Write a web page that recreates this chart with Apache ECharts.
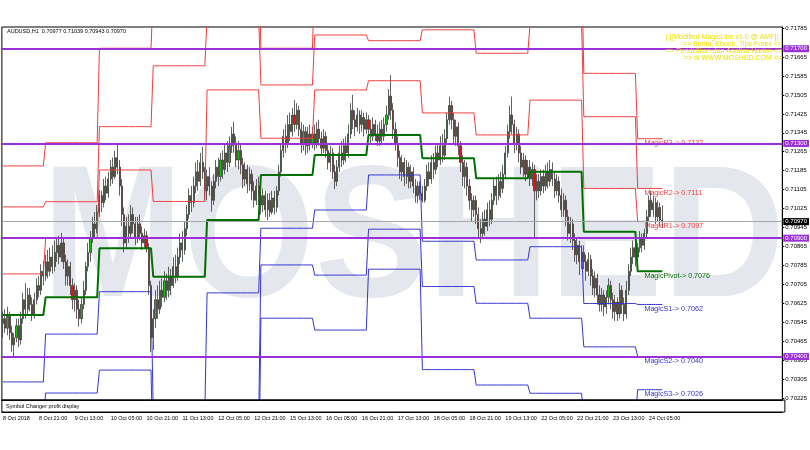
<!DOCTYPE html>
<html><head><meta charset="utf-8">
<script src="https://cdn.jsdelivr.net/npm/echarts@6/dist/echarts.min.js"></script>
<style>html,body{margin:0;padding:0;background:#fff}#c{width:810px;height:450px}</style>
</head><body><div id="c"></div>
<script>
// ---------- data ----------
const symbolTitle = 'AUDUSD,H1  0.70977 0.71039 0.70943 0.70970';
const dayNames = ['8 Oct','9 Oct','10 Oct','11 Oct','12 Oct','15 Oct','16 Oct','17 Oct','18 Oct','19 Oct','22 Oct','23 Oct','24 Oct'];
const dayFirstHour = [5,0,0,0,0,0,0,0,0,0,0,0,0];
const dayBarCount = [19,24,24,24,24,24,24,24,24,24,24,24,12];
const xTickLabels = ['8 Oct 2018','8 Oct 21:00','9 Oct 13:00','10 Oct 05:00','10 Oct 21:00','11 Oct 13:00','12 Oct 05:00','12 Oct 21:00','15 Oct 13:00','16 Oct 05:00','16 Oct 21:00','17 Oct 13:00','18 Oct 05:00','18 Oct 21:00','19 Oct 13:00','22 Oct 05:00','22 Oct 21:00','23 Oct 13:00','24 Oct 05:00'];
const yTickValues = [0.70225,0.70305,0.70385,0.70465,0.70545,0.70625,0.70705,0.70785,0.70865,0.70945,0.71025,0.71105,0.71185,0.71265,0.71345,0.71425,0.71505,0.71585,0.71665,0.71785];
// [open, close, low, high]
const candles = [
[0.70540,0.70560,0.70480,0.70590],[0.70560,0.70520,0.70500,0.70600],[0.70520,0.70570,0.70490,0.70610],[0.70570,0.70500,0.70470,0.70590],
[0.70500,0.70450,0.70420,0.70530],[0.70450,0.70480,0.70401,0.70500],[0.70480,0.70530,0.70460,0.70560],[0.70530,0.70470,0.70440,0.70560],
[0.70470,0.70560,0.70450,0.70590],[0.70560,0.70640,0.70540,0.70670],[0.70640,0.70600,0.70560,0.70710],[0.70600,0.70660,0.70580,0.70690],
[0.70660,0.70620,0.70590,0.70690],[0.70620,0.70580,0.70550,0.70650],[0.70580,0.70640,0.70560,0.70670],[0.70640,0.70700,0.70620,0.70730],
[0.70700,0.70680,0.70650,0.70740],[0.70680,0.70760,0.70660,0.70790],[0.70760,0.70740,0.70700,0.70805],
[0.70740,0.70800,0.70720,0.70830],[0.70800,0.70760,0.70730,0.70850],[0.70760,0.70820,0.70740,0.70860],[0.70820,0.70780,0.70750,0.70870],
[0.70780,0.70840,0.70760,0.70890],[0.70840,0.70870,0.70800,0.70900],[0.70870,0.70820,0.70790,0.70910],[0.70820,0.70880,0.70800,0.70922],
[0.70880,0.70800,0.70770,0.70900],[0.70800,0.70740,0.70700,0.70830],[0.70740,0.70780,0.70700,0.70810],[0.70780,0.70700,0.70660,0.70800],
[0.70700,0.70640,0.70600,0.70730],[0.70640,0.70680,0.70590,0.70710],[0.70680,0.70600,0.70560,0.70700],[0.70600,0.70560,0.70526,0.70640],
[0.70560,0.70620,0.70540,0.70650],[0.70620,0.70680,0.70600,0.70720],[0.70680,0.70780,0.70660,0.70800],[0.70780,0.70840,0.70760,0.70880],
[0.70840,0.70900,0.70800,0.70930],[0.70900,0.70960,0.70880,0.70990],[0.70960,0.70940,0.70900,0.71010],[0.70940,0.71010,0.70920,0.71040],
[0.71010,0.71080,0.70990,0.71103],[0.71080,0.71050,0.71010,0.71100],[0.71050,0.71120,0.71030,0.71150],[0.71120,0.71090,0.71060,0.71160],
[0.71090,0.71150,0.71070,0.71180],[0.71150,0.71200,0.71120,0.71230],[0.71200,0.71160,0.71130,0.71240],[0.71160,0.71240,0.71150,0.71270],
[0.71240,0.71200,0.71170,0.71300],[0.71200,0.71120,0.71080,0.71230],[0.71120,0.71000,0.70950,0.71150],[0.71000,0.70880,0.70840,0.71030],
[0.70880,0.70950,0.70860,0.70990],[0.70950,0.70920,0.70880,0.71000],[0.70920,0.71000,0.70900,0.71040],[0.71000,0.70960,0.70920,0.71030],
[0.70960,0.70900,0.70870,0.70990],[0.70900,0.70960,0.70880,0.70990],[0.70960,0.70920,0.70890,0.71000],[0.70920,0.70880,0.70850,0.70950],
[0.70880,0.70910,0.70860,0.70940],[0.70910,0.70860,0.70840,0.70930],[0.70860,0.70700,0.70660,0.70880],[0.70700,0.70480,0.70419,0.70720],
[0.70480,0.70560,0.70428,0.70600],[0.70560,0.70640,0.70520,0.70680],[0.70640,0.70600,0.70560,0.70700],[0.70600,0.70680,0.70580,0.70720],
[0.70680,0.70650,0.70610,0.70730],[0.70650,0.70720,0.70630,0.70760],[0.70720,0.70680,0.70640,0.70750],[0.70680,0.70740,0.70650,0.70780],
[0.70740,0.70700,0.70660,0.70770],[0.70700,0.70780,0.70690,0.70820],[0.70780,0.70740,0.70710,0.70830],[0.70740,0.70820,0.70720,0.70860],
[0.70820,0.70880,0.70790,0.70920],[0.70880,0.70850,0.70800,0.70930],[0.70850,0.70940,0.70830,0.70970],[0.70940,0.71000,0.70910,0.71040],
[0.71000,0.71080,0.70980,0.71110],[0.71080,0.71050,0.71010,0.71120],[0.71050,0.71120,0.71030,0.71160],[0.71120,0.71180,0.71090,0.71220],
[0.71180,0.71140,0.71100,0.71230],[0.71140,0.71220,0.71120,0.71260],[0.71220,0.71180,0.71150,0.71285],[0.71180,0.71100,0.71060,0.71200],
[0.71100,0.71160,0.71060,0.71190],[0.71160,0.71120,0.71080,0.71200],[0.71120,0.71060,0.71012,0.71140],[0.71060,0.71140,0.71040,0.71170],
[0.71140,0.71200,0.71110,0.71230],[0.71200,0.71160,0.71120,0.71240],[0.71160,0.71230,0.71140,0.71260],[0.71230,0.71190,0.71150,0.71270],
[0.71190,0.71260,0.71170,0.71300],[0.71260,0.71220,0.71180,0.71310],[0.71220,0.71290,0.71200,0.71330],[0.71290,0.71340,0.71260,0.71370],
[0.71340,0.71300,0.71260,0.71392],[0.71300,0.71230,0.71200,0.71330],[0.71230,0.71270,0.71190,0.71310],[0.71270,0.71210,0.71170,0.71300],
[0.71210,0.71150,0.71110,0.71240],[0.71150,0.71190,0.71120,0.71220],[0.71190,0.71130,0.71090,0.71210],[0.71130,0.71170,0.71100,0.71200],
[0.71170,0.71100,0.71060,0.71190],[0.71100,0.71060,0.71030,0.71140],[0.71060,0.71120,0.71040,0.71150],[0.71120,0.71080,0.71040,0.71160],
[0.71080,0.71040,0.71000,0.71110],[0.71040,0.71080,0.71010,0.71110],[0.71080,0.71020,0.70990,0.71100],[0.71020,0.71060,0.70976,0.71090],
[0.71060,0.71010,0.70990,0.71090],[0.71010,0.71070,0.71000,0.71100],[0.71070,0.71030,0.71000,0.71100],[0.71030,0.71100,0.71010,0.71120],
[0.71100,0.71180,0.71080,0.71210],[0.71180,0.71270,0.71160,0.71300],[0.71270,0.71330,0.71240,0.71360],[0.71330,0.71300,0.71260,0.71380],
[0.71300,0.71380,0.71280,0.71420],[0.71380,0.71350,0.71310,0.71430],[0.71350,0.71420,0.71330,0.71450],[0.71420,0.71380,0.71350,0.71483],
[0.71380,0.71440,0.71360,0.71470],[0.71440,0.71360,0.71330,0.71460],[0.71360,0.71300,0.71260,0.71390],[0.71300,0.71350,0.71270,0.71380],
[0.71350,0.71290,0.71250,0.71370],[0.71290,0.71340,0.71260,0.71370],[0.71340,0.71300,0.71270,0.71380],[0.71300,0.71340,0.71280,0.71370],
[0.71340,0.71300,0.71270,0.71380],[0.71300,0.71360,0.71280,0.71390],[0.71360,0.71320,0.71290,0.71400],[0.71320,0.71280,0.71250,0.71350],
[0.71280,0.71330,0.71260,0.71360],[0.71330,0.71270,0.71240,0.71350],[0.71270,0.71220,0.71190,0.71300],[0.71220,0.71260,0.71180,0.71290],
[0.71260,0.71180,0.71150,0.71280],[0.71180,0.71140,0.71107,0.71210],[0.71140,0.71200,0.71120,0.71230],[0.71200,0.71260,0.71180,0.71290],
[0.71260,0.71230,0.71200,0.71310],[0.71230,0.71290,0.71210,0.71320],[0.71290,0.71260,0.71220,0.71330],[0.71260,0.71340,0.71240,0.71380],
[0.71340,0.71440,0.71320,0.71470],[0.71440,0.71400,0.71360,0.71505],[0.71400,0.71370,0.71330,0.71440],[0.71370,0.71420,0.71350,0.71450],
[0.71420,0.71380,0.71340,0.71440],[0.71380,0.71410,0.71350,0.71440],[0.71410,0.71360,0.71330,0.71430],[0.71360,0.71400,0.71340,0.71430],
[0.71400,0.71360,0.71320,0.71420],[0.71360,0.71330,0.71300,0.71400],[0.71330,0.71380,0.71310,0.71410],[0.71380,0.71340,0.71310,0.71400],
[0.71340,0.71310,0.71290,0.71380],[0.71310,0.71360,0.71290,0.71390],[0.71360,0.71330,0.71300,0.71400],[0.71330,0.71380,0.71310,0.71410],
[0.71380,0.71420,0.71350,0.71460],[0.71420,0.71500,0.71400,0.71530],[0.71500,0.71440,0.71400,0.71589],[0.71440,0.71360,0.71320,0.71470],
[0.71360,0.71300,0.71270,0.71390],[0.71300,0.71240,0.71200,0.71330],[0.71240,0.71180,0.71150,0.71270],[0.71180,0.71220,0.71140,0.71250],
[0.71220,0.71160,0.71120,0.71240],[0.71160,0.71200,0.71130,0.71230],[0.71200,0.71140,0.71110,0.71220],[0.71140,0.71180,0.71110,0.71210],
[0.71180,0.71120,0.71090,0.71200],[0.71120,0.71080,0.71050,0.71150],[0.71080,0.71120,0.71047,0.71140],[0.71120,0.71090,0.71060,0.71140],
[0.71090,0.71060,0.71050,0.71120],[0.71060,0.71120,0.71050,0.71150],[0.71120,0.71180,0.71100,0.71210],[0.71180,0.71150,0.71120,0.71220],
[0.71150,0.71220,0.71130,0.71250],[0.71220,0.71190,0.71150,0.71260],[0.71190,0.71260,0.71170,0.71290],[0.71260,0.71230,0.71200,0.71300],
[0.71230,0.71290,0.71210,0.71330],[0.71290,0.71250,0.71220,0.71340],[0.71250,0.71320,0.71230,0.71360],[0.71320,0.71400,0.71300,0.71430],
[0.71400,0.71460,0.71380,0.71498],[0.71460,0.71400,0.71360,0.71480],[0.71400,0.71330,0.71300,0.71430],[0.71330,0.71370,0.71290,0.71400],
[0.71370,0.71290,0.71250,0.71390],[0.71290,0.71220,0.71180,0.71310],[0.71220,0.71160,0.71120,0.71250],[0.71160,0.71200,0.71110,0.71230],
[0.71200,0.71120,0.71080,0.71220],[0.71120,0.71060,0.71020,0.71150],[0.71060,0.71020,0.70970,0.71090],[0.71020,0.71060,0.70990,0.71080],
[0.71060,0.71000,0.70960,0.71080],[0.71000,0.70940,0.70900,0.71030],[0.70940,0.70920,0.70879,0.70980],[0.70920,0.70980,0.70900,0.71010],
[0.70980,0.70950,0.70910,0.71020],[0.70950,0.71020,0.70930,0.71050],[0.71020,0.70980,0.70950,0.71060],[0.70980,0.71060,0.70960,0.71090],
[0.71060,0.71120,0.71040,0.71150],[0.71120,0.71080,0.71040,0.71160],[0.71080,0.71140,0.71060,0.71170],[0.71140,0.71110,0.71070,0.71180],
[0.71110,0.71170,0.71090,0.71210],[0.71170,0.71260,0.71150,0.71290],[0.71260,0.71350,0.71240,0.71380],[0.71350,0.71420,0.71320,0.71460],
[0.71420,0.71380,0.71340,0.71498],[0.71380,0.71300,0.71260,0.71400],[0.71300,0.71340,0.71270,0.71370],[0.71340,0.71260,0.71220,0.71360],
[0.71260,0.71200,0.71170,0.71290],[0.71200,0.71230,0.71160,0.71260],[0.71230,0.71170,0.71140,0.71250],[0.71170,0.71200,0.71150,0.71230],
[0.71200,0.71150,0.71120,0.71230],[0.71150,0.71190,0.71120,0.71220],[0.71190,0.71100,0.70900,0.71210],[0.71100,0.71140,0.71060,0.71170],
[0.71140,0.71100,0.71070,0.71170],[0.71100,0.71160,0.71080,0.71190],[0.71160,0.71120,0.71090,0.71190],[0.71120,0.71180,0.71100,0.71210],
[0.71180,0.71140,0.71110,0.71220],[0.71140,0.71190,0.71120,0.71230],[0.71190,0.71150,0.71120,0.71220],[0.71150,0.71100,0.71070,0.71180],
[0.71100,0.71140,0.71080,0.71170],[0.71140,0.71080,0.71050,0.71160],[0.71080,0.71020,0.70990,0.71110],[0.71020,0.71060,0.70990,0.71090],
[0.71060,0.70990,0.70950,0.71080],[0.70990,0.70920,0.70890,0.71020],[0.70920,0.70960,0.70880,0.70990],[0.70960,0.70890,0.70850,0.70980],
[0.70890,0.70830,0.70800,0.70920],[0.70830,0.70870,0.70790,0.70900],[0.70870,0.70800,0.70744,0.70890],[0.70800,0.70840,0.70770,0.70870],
[0.70840,0.70800,0.70770,0.70870],[0.70800,0.70760,0.70720,0.70830],[0.70760,0.70810,0.70740,0.70840],[0.70810,0.70740,0.70700,0.70830],
[0.70740,0.70690,0.70660,0.70770],[0.70690,0.70730,0.70650,0.70760],[0.70730,0.70660,0.70620,0.70750],[0.70660,0.70620,0.70590,0.70700],
[0.70620,0.70660,0.70590,0.70690],[0.70660,0.70610,0.70570,0.70680],[0.70610,0.70650,0.70580,0.70680],[0.70650,0.70700,0.70620,0.70730],
[0.70700,0.70640,0.70600,0.70720],[0.70640,0.70590,0.70560,0.70670],[0.70590,0.70630,0.70550,0.70660],[0.70630,0.70580,0.70550,0.70650],
[0.70580,0.70680,0.70560,0.70710],[0.70680,0.70620,0.70580,0.70700],[0.70620,0.70580,0.70550,0.70650],[0.70580,0.70680,0.70560,0.70720],
[0.70680,0.70760,0.70660,0.70790],[0.70760,0.70820,0.70740,0.70860],[0.70820,0.70860,0.70790,0.70890],[0.70860,0.70820,0.70780,0.70900],
[0.70820,0.70860,0.70790,0.70880],[0.70860,0.70900,0.70840,0.70930],[0.70900,0.70870,0.70840,0.70920],[0.70870,0.70920,0.70850,0.70940],
[0.70920,0.70990,0.70900,0.71020],[0.70990,0.71060,0.70970,0.71080],[0.71060,0.71020,0.70990,0.71100],[0.71020,0.71050,0.70990,0.71080],
[0.71050,0.70990,0.70960,0.71070],[0.70990,0.71030,0.70970,0.71060],[0.71030,0.70977,0.70950,0.71050],[0.70977,0.70970,0.70943,0.71039]
];
// daily MagicLine pivot levels (one value per trading day)
const pivotDaily = [0.70576,0.70650,0.70857,0.70737,0.70977,0.71167,0.71251,0.71336,0.71238,0.71153,0.71181,0.70927,0.7076];
const r1Daily    = [0.70749,0.70899,0.71188,0.71055,0.71526,0.71322,0.71526,0.71565,0.71429,0.71336,0.71483,0.71110,0.7097];
const r2Daily    = [0.71032,0.71054,0.71371,0.71628,0.71834,0.71547,0.71758,0.71734,0.71780,0.71681,0.71800,0.71413,0.7111];
const r3Daily    = [0.71205,0.71303,0.71702,0.71946,0.72100,0.71702,0.72033,0.71963,0.72000,0.71864,0.72050,0.71596,0.7132];
const s1Daily    = [0.70293,0.70495,0.70674,0.70164,0.70669,0.70942,0.71019,0.71167,0.70887,0.70808,0.70864,0.70624,0.7062];
const s2Daily    = [0.70120,0.70246,0.70343,0.69900,0.70120,0.70787,0.70744,0.70938,0.70696,0.70625,0.70562,0.70441,0.7040];
const s3Daily    = [0.69840,0.70091,0.70160,0.69600,0.69800,0.70562,0.70512,0.70769,0.70345,0.70280,0.70245,0.70138,0.7026];
const levelLines = [0.7170, 0.7130, 0.7090, 0.7040];
const bidPrice = 0.7097;
const infoLines = ['|:|[Modified MagicLine v1.0 @ AMF]|:|','=> Berita, Ebook, Tips Forex <=','=> Pendidikan dan Analisa Harian <=','=> di WWW.MOSHED.COM <='];

// ---------- build ----------
const N_CAT = 348;
const categories = [];
dayNames.forEach((d, i) => {
  for (let k = 0; k < dayBarCount[i]; k++) {
    const h = dayFirstHour[i] + k;
    categories.push(d + ' ' + String(h).padStart(2, '0') + ':00');
  }
});
while (categories.length < N_CAT) categories.push('');
function expand(daily) {
  const out = [];
  daily.forEach((v, i) => { for (let k = 0; k < dayBarCount[i]; k++) out.push(v); });
  return out;
}
const LAST = dayNames.length - 1;
const LABEL_IDX = 286;
const FONT = '"Liberation Sans", Arial, sans-serif';

function levelSeries(name, daily, color, width, labelText) {
  return {
    type: 'line', name, data: expand(daily), symbol: 'none', z: 4,
    lineStyle: { color, width }, animation: false, silent: true,
    markPoint: {
      symbol: 'circle', symbolSize: 0, silent: true, animation: false,
      data: [{ coord: [LABEL_IDX, daily[LAST]], value: daily[LAST] }],
      label: { show: true, position: [0, 1], align: 'left', verticalAlign: 'top',
        formatter: labelText + daily[LAST].toFixed(4), color, fontSize: 7.2, fontFamily: FONT }
    }
  };
}

const chart = echarts.init(document.getElementById('c'));
const purple = '#9b30d8';
chart.setOption({
  animation: false,
  backgroundColor: '#ffffff',
  grid: { left: 1.875, top: 27, width: 783, height: 373, show: true, borderColor: '#000', borderWidth: 1, backgroundColor: 'transparent' },
  xAxis: [
    { type: 'category', data: categories, boundaryGap: true,
      axisLine: { show: true, lineStyle: { color: '#000', width: 1 } }, axisTick: { show: false },
      axisLabel: { show: false }, splitLine: { show: false } },
    { type: 'category', data: categories, boundaryGap: true, position: 'bottom', offset: 12,
      axisLine: { show: true, lineStyle: { color: '#000', width: 1 } }, axisTick: { show: false },
      axisLabel: { show: true, interval: 15, align: 'left', margin: 3.5, fontSize: 5.5, color: '#000', fontFamily: FONT,
        formatter: (v, i) => (i % 16 === 0 && xTickLabels[i / 16]) ? xTickLabels[i / 16] : '' },
      splitLine: { show: false } }
  ],
  yAxis: {
    type: 'value', position: 'right', min: 0.702166, max: 0.717918, scale: true,
    axisLine: { show: true, lineStyle: { color: '#000' } }, splitLine: { show: false },
    axisTick: { show: true, customValues: yTickValues, length: 2, lineStyle: { color: '#000' } },
    axisLabel: { show: true, customValues: yTickValues, formatter: v => v.toFixed(5), fontSize: 6, margin: 3, color: '#000', fontFamily: FONT }
  },
  graphic: [
    { type: 'text', z: -10, silent: true, x: 413.5, y: 244, scaleX: 0.9, scaleY: 1,
      style: { x: 0, y: 0, text: 'MOSHED', textAlign: 'center', textVerticalAlign: 'middle',
      font: 'bold 188px "Liberation Sans", Arial, sans-serif', fill: '#e4e7ee' } },
    { type: 'text', z: 10, silent: true, style: { x: 7, y: 31, text: symbolTitle, textVerticalAlign: 'middle', font: '5.5px "Liberation Sans", Arial, sans-serif', fill: '#000' } },
    { type: 'rect', z: 10, silent: true, shape: { x: 1.875, y: 400, width: 783, height: 12 }, style: { fill: 'none', stroke: '#000', lineWidth: 1 } },
    { type: 'text', z: 10, silent: true, style: { x: 6, y: 406.5, text: 'Symbol Changer profit display', textVerticalAlign: 'middle', font: '5.5px "Liberation Sans", Arial, sans-serif', fill: '#000' } },
    ...infoLines.map((t, i) => ({ type: 'text', z: 10, silent: true, style: { x: 782, y: 37 + i * 6.9, text: t, textAlign: 'right', textVerticalAlign: 'middle', font: '7px "Liberation Sans", Arial, sans-serif', fill: '#eee000' } }))
  ],
  series: [
    { type: 'candlestick', data: candles, barWidth: 1.6, z: 3, silent: true, animation: false,
      itemStyle: { color: '#10c010', color0: '#e81010', borderColor: '#3a3a3a', borderColor0: '#3a3a3a', borderWidth: 0.8 },
      markLine: {
        symbol: 'none', silent: true, animation: false, precision: 5, z: 6,
        data: [
          ...levelLines.map(v => ({ yAxis: v, lineStyle: { color: purple, width: 2, type: 'solid' },
            label: { show: true, position: 'end', distance: 1, formatter: v.toFixed(5), color: '#fff', backgroundColor: purple, padding: [1, 2, 0, 2], fontSize: 6, fontFamily: FONT } })),
          { yAxis: bidPrice, lineStyle: { color: '#a8a8a8', width: 1, type: 'solid' },
            label: { show: true, position: 'end', distance: 1, formatter: bidPrice.toFixed(5), color: '#fff', backgroundColor: '#000', padding: [1, 2, 0, 2], fontSize: 6, fontFamily: FONT } }
        ]
      }
    },
    levelSeries('R3', r3Daily, '#f03c3c', 1, 'MagicR3-> '),
    levelSeries('R2', r2Daily, '#f03c3c', 1, 'MagicR2-> '),
    levelSeries('R1', r1Daily, '#f03c3c', 1, 'MagicR1-> '),
    levelSeries('S1', s1Daily, '#3434d0', 1, 'MagicS1-> '),
    levelSeries('S2', s2Daily, '#3434d0', 1, 'MagicS2-> '),
    levelSeries('S3', s3Daily, '#3434d0', 1, 'MagicS3-> '),
    levelSeries('Pivot', pivotDaily, '#007000', 2, 'MagicPivot-> ')
  ]
});
</script></body></html>
